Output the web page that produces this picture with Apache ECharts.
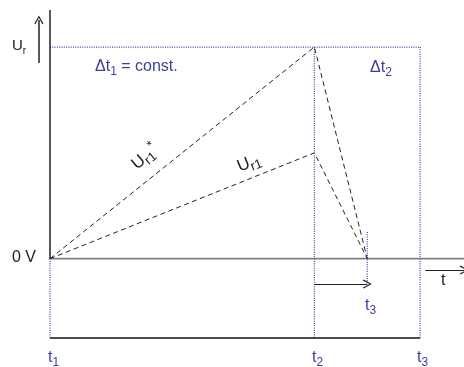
<!DOCTYPE html>
<html>
<head>
<meta charset="utf-8">
<script src="https://cdn.jsdelivr.net/npm/echarts@6/dist/echarts.min.js"></script>
<style>
  html, body { margin: 0; padding: 0; background: #fff; }
  #chart { width: 464px; height: 367px; }
</style>
</head>
<body>
<div id="chart"></div>
<script>
  // time marks (t1, t2, crossing t3, end of dt2) and voltage levels
  const tMarks = [0, 5, 6, 7]
  const xMax = 7.83
  const yMin = -3.75
  const yMax = 11.75
  const urLevel = 10
  const ur1Level = 5

  // ramps: rise during dt1, fall back to 0 V at t3
  const ur1StarData = [[0, 0], [5, 10], [6, 0]]
  const ur1Data = [[0, 0], [5, 5], [6, 0]]

  // helper lines
  const zeroLine = [[0, 0], [xMax, 0]]
  const yAxisLine = [[0, 0], [0, yMax]]
  const bottomLine = [[0, yMin], [7, yMin]]
  const dottedTop = [[0, urLevel], [7, urLevel]]
  const dottedT1 = [[0, 0], [0, yMin]]
  const dottedT2 = [[5, urLevel], [5, yMin]]
  const dottedT3 = [[7, urLevel], [7, yMin]]
  const dottedCross = [[6, 1.26], [6, -1.2]]

  // arrows
  const arrowDt = [[5, -1.2], [6, -1.2]]
  const arrowT = [[7.1, -0.54], [7.83, -0.54]]
  const arrowUr = [[-0.21, 9.24], [-0.21, 11.28]]

  const blue = '#3d3f9c'
  const font = 'Liberation Sans, Arial, sans-serif'
  const chevron = 'path://M5,0L10,8L9,9L5,2.2L1,9L0,8Z'

  function lineSeries (data, color, width, type) {
    return {
      type: 'line',
      data: data,
      showSymbol: false,
      symbol: 'none',
      clip: false,
      silent: true,
      animation: false,
      lineStyle: { color: color, width: width, type: type }
    }
  }

  function arrowSeries (coords, width) {
    return {
      type: 'lines',
      coordinateSystem: 'cartesian2d',
      clip: false,
      silent: true,
      animation: false,
      symbol: ['none', chevron],
      symbolSize: [9, 9],
      lineStyle: { color: '#222', width: width || 1, opacity: 1, curveness: 0 },
      data: [{ coords: coords }]
    }
  }

  function label (x, y, text, rich, color, rotation, align) {
    return {
      type: 'text',
      x: x,
      y: y,
      rotation: rotation || 0,
      style: {
        text: text,
        rich: rich,
        fill: color,
        align: align || 'left',
        verticalAlign: 'middle',
        fontFamily: font
      }
    }
  }

  function subRich (main, sub, color) {
    return {
      m: { fontSize: main, lineHeight: main + 6, fontFamily: font, color: color, verticalAlign: 'middle' },
      s: { fontSize: sub, lineHeight: sub, fontFamily: font, color: color, verticalAlign: 'bottom' },
      p: { fontSize: sub, lineHeight: sub, fontFamily: font, color: color, verticalAlign: 'top' }
    }
  }

  const chart = echarts.init(document.getElementById('chart'))
  chart.setOption({
    animation: false,
    grid: { left: 50, right: 0, top: 10, bottom: 29 },
    xAxis: { type: 'value', min: 0, max: xMax, show: false },
    yAxis: { type: 'value', min: yMin, max: yMax, show: false },
    series: [
      lineSeries(dottedTop, blue, 1.2, [1, 1.3]),
      lineSeries(dottedT1, blue, 1.2, [1, 1.3]),
      lineSeries(dottedT2, blue, 1.2, [1, 1.3]),
      lineSeries(dottedT3, blue, 1.2, [1, 1.3]),
      lineSeries(dottedCross, blue, 1.2, [1, 1.3]),
      lineSeries(zeroLine, '#808080', 1.8, 'solid'),
      lineSeries(yAxisLine, '#111', 1.4, 'solid'),
      lineSeries(bottomLine, '#111', 1.4, 'solid'),
      lineSeries(ur1StarData, '#222', 1, [5, 3.5]),
      lineSeries(ur1Data, '#222', 1, [5, 3.5]),
      arrowSeries(arrowDt, 1.2),
      arrowSeries(arrowT, 1.2),
      arrowSeries(arrowUr, 1.5)
    ],
    graphic: [
      label(12, 46, '{m|U}{s|r}', subRich(15, 10, '#222'), '#222'),
      label(12, 258, '0 V', null, '#222'),
      label(441, 281, 't', null, '#222'),
      label(95, 67, '{m|Δt}{s|1}{m| = const.}', subRich(16, 12, blue), blue),
      label(370, 68, '{m|Δt}{s|2}', subRich(16, 12, blue), blue),
      label(365, 306, '{m|t}{s|3}', subRich(16, 12, blue), blue),
      label(48, 358, '{m|t}{s|1}', subRich(16, 12, blue), blue),
      label(312, 358, '{m|t}{s|2}', subRich(16, 12, blue), blue),
      label(417, 358, '{m|t}{s|3}', subRich(16, 12, blue), blue),
      label(145, 157, '{m|U}{s|r1}{p|*}', subRich(17, 13, '#222'), '#222', 0.70, 'center'),
      label(249, 163, '{m|U}{s|r1}', subRich(17, 13, '#222'), '#222', 0.38, 'center')
    ].map(function (g) {
      if (!g.style.rich) {
        g.style.fontSize = 16
      }
      return g
    })
  })
</script>
</body>
</html>
